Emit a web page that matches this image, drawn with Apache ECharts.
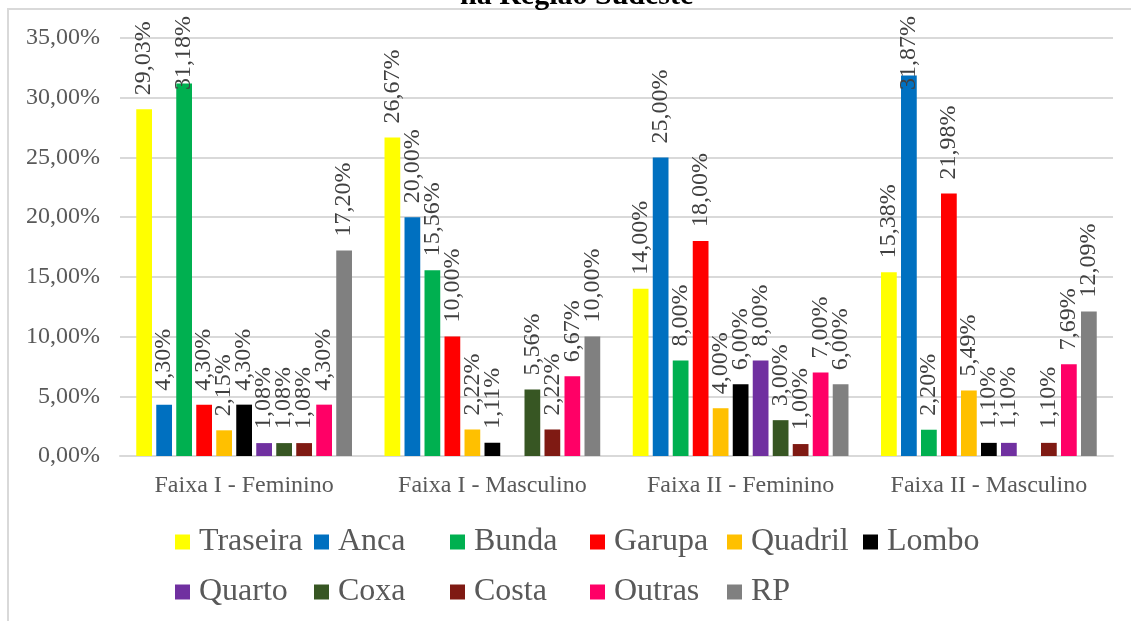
<!DOCTYPE html>
<html>
<head>
<meta charset="utf-8">
<title>na Região Sudeste</title>
<script src="https://cdn.jsdelivr.net/npm/echarts@6/dist/echarts.min.js"></script>
<style>
  html, body { margin: 0; padding: 0; background: #ffffff; }
  #chart { width: 1131px; height: 621px; }
</style>
</head>
<body>
<div id="chart"></div>
<script>
// Age/sex groups along the x axis
const categories = ['Faixa I - Feminino', 'Faixa I - Masculino', 'Faixa II - Feminino', 'Faixa II - Masculino'];

// Term names (legend order)
const seriesNames = ['Traseira', 'Anca', 'Bunda', 'Garupa', 'Quadril', 'Lombo', 'Quarto', 'Coxa', 'Costa', 'Outras', 'RP'];

// Percentages per term, one value per group (null = no answer)
const traseira = [29.03, 26.67, 14.00, 15.38];
const anca     = [4.30, 20.00, 25.00, 31.87];
const bunda    = [31.18, 15.56, 8.00, 2.20];
const garupa   = [4.30, 10.00, 18.00, 21.98];
const quadril  = [2.15, 2.22, 4.00, 5.49];
const lombo    = [4.30, 1.11, 6.00, 1.10];
const quarto   = [1.08, null, 8.00, 1.10];
const coxa     = [1.08, 5.56, 3.00, null];
const costa    = [1.08, 2.22, 1.00, 1.10];
const outras   = [4.30, 6.67, 7.00, 7.69];
const rp       = [17.20, 10.00, 6.00, 12.09];

// Y axis ticks (percent)
const yTicks = { min: 0, max: 35, step: 5 };

const seriesValues = [traseira, anca, bunda, garupa, quadril, lombo, quarto, coxa, costa, outras, rp];
const seriesColors = ['#FFFF00', '#0070C0', '#00B050', '#FF0000', '#FFC000', '#000000',
                      '#7030A0', '#375623', '#7F1A13', '#FF0066', '#808080'];

const FONT = '"Liberation Serif", "Times New Roman", serif';
const LABEL_SIZE = 24;
const pct = v => v.toFixed(2).replace('.', ',') + '%';

const LABEL_DISTANCE = 14;
const LABEL_MIN_TOP = 16;

// Legend laid out as a two-row grid of fixed columns
const legendCols = [175, 314, 450, 590, 727, 863];
const legendRows = [526, 576];
const legends = seriesNames.map((name, i) => ({
  data: [name],
  left: legendCols[i % 6],
  top: legendRows[Math.floor(i / 6)],
  icon: 'rect',
  itemWidth: 15,
  itemHeight: 15,
  itemGap: 0,
  padding: 0,
  selectedMode: false,
  textStyle: { fontFamily: FONT, fontSize: 32, color: '#595959', padding: [0, 0, 0, 4], lineHeight: 30 }
}));

function buildSeries(distanceFor) {
  return seriesNames.map((name, i) => ({
    name: name,
    type: 'bar',
    data: seriesValues[i].map(v => (v == null ? null : {
      value: v,
      label: { distance: distanceFor(v) }
    })),
    barGap: '27%',
    barCategoryGap: '13.1%',
    itemStyle: { color: seriesColors[i] },
    label: {
      show: true,
      position: 'top',
      rotate: 90,
      align: 'left',
      verticalAlign: 'middle',
      distance: LABEL_DISTANCE,
      fontFamily: FONT,
      fontSize: LABEL_SIZE,
      color: '#404040',
      formatter: p => (p.value == null ? '' : pct(p.value))
    }
  }));
}

const chart = echarts.init(document.getElementById('chart'), null, { renderer: 'canvas' });
chart.setOption({
  animation: false,
  backgroundColor: '#ffffff',
  title: {
    text: 'na Região Sudeste',
    left: 460,
    top: -19,
    padding: 0,
    textStyle: { fontFamily: FONT, fontSize: 30, fontWeight: 'bold', color: '#000000', lineHeight: 30 }
  },
  graphic: [{
    type: 'rect',
    silent: true,
    z: -10,
    shape: { x: 8, y: 9, width: 1300, height: 800 },
    style: { fill: 'none', stroke: '#d9d9d9', lineWidth: 2 }
  }],
  legend: legends,
  grid: { left: 120, right: 18, top: 38, bottom: 165, containLabel: false },
  xAxis: {
    type: 'category',
    data: categories,
    axisTick: { show: false },
    axisLine: { show: true, lineStyle: { color: '#d9d9d9', width: 2 } },
    axisLabel: { interval: 0, fontFamily: FONT, fontSize: 24, color: '#595959', margin: 18 }
  },
  yAxis: {
    type: 'value',
    min: yTicks.min,
    max: yTicks.max,
    interval: yTicks.step,
    axisLine: { show: false },
    axisTick: { show: false },
    splitLine: { lineStyle: { color: '#d9d9d9', width: 2 } },
    axisLabel: { fontFamily: FONT, fontSize: 24, color: '#595959', margin: 20, formatter: v => pct(v) }
  },
  series: buildSeries(() => LABEL_DISTANCE)
});

// Labels that would run past the top of the frame slide down over their bar
const ctx = document.createElement('canvas').getContext('2d');
ctx.font = LABEL_SIZE + 'px ' + FONT;
chart.setOption({
  series: buildSeries(v => {
    const barTop = chart.convertToPixel({ yAxisIndex: 0 }, v);
    const len = ctx.measureText(pct(v)).width;
    const top = barTop - LABEL_DISTANCE - len;
    return top < LABEL_MIN_TOP ? barTop - LABEL_MIN_TOP - len : LABEL_DISTANCE;
  })
});
</script>
</body>
</html>
